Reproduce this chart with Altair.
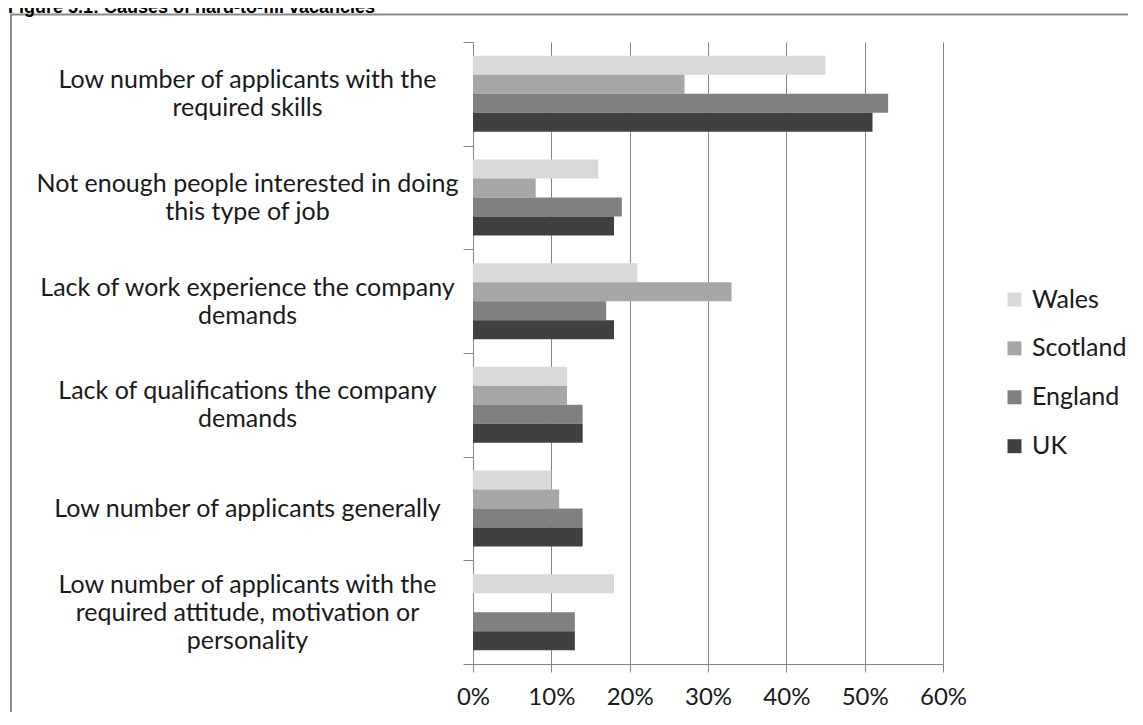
import altair as alt
import pandas as pd

TITLE = "Figure 5.1: Causes of hard-to-fill vacancies"

causes = [
    "Low number of applicants with the\nrequired skills",
    "Not enough people interested in doing\nthis type of job",
    "Lack of work experience the company\ndemands",
    "Lack of qualifications the company\ndemands",
    "Low number of applicants generally",
    "Low number of applicants with the\nrequired attitude, motivation or\npersonality",
]
regions = ["Wales", "Scotland", "England", "UK"]
colors = ["#d9d9d9", "#a6a6a6", "#808080", "#404040"]

wales = [0.45, 0.16, 0.21, 0.12, 0.10, 0.18]
scotland = [0.27, 0.08, 0.33, 0.12, 0.11, None]
england = [0.53, 0.19, 0.17, 0.14, 0.14, 0.13]
uk = [0.51, 0.18, 0.18, 0.14, 0.14, 0.13]

tick_values = [0, 0.1, 0.2, 0.3, 0.4, 0.5, 0.6]

rows = []
for reg, vals in zip(regions, [wales, scotland, england, uk]):
    for c, v in zip(causes, vals):
        if v is not None:
            rows.append({"cause": c, "region": reg, "value": v})
df = pd.DataFrame(rows)

FONT = "Lato"
FS = 25
LH = 28
AXIS_GRAY = "#868686"
TEXT = "#1a1a1a"

nlines = "length(split(datum.value, '\\n'))"

bars = alt.Chart(df).mark_bar().encode(
    x=alt.X(
        "value:Q",
        scale=alt.Scale(domain=[0, 0.6], nice=False, zero=True),
        axis=alt.Axis(
            title=None, format=".0%", values=tick_values, grid=True,
            gridColor=AXIS_GRAY, gridWidth=1, gridOpacity=1,
            domainColor=AXIS_GRAY, tickColor=AXIS_GRAY, tickSize=8,
            labelFont=FONT, labelFontSize=24, labelColor=TEXT,
            labelPadding=13, labelFlush=False,
        ),
    ),
    y=alt.Y(
        "cause:N", sort=causes,
        scale=alt.Scale(paddingInner=0, paddingOuter=0),
        axis=alt.Axis(
            title=None, tickBand="extent", grid=False,
            domainColor=AXIS_GRAY, tickColor=AXIS_GRAY, tickSize=10,
            labelFont=FONT, labelFontSize=FS, labelColor=TEXT,
            labelAlign="center", labelBaseline="middle", labelPadding=216,
            labelLineHeight=LH, labelLimit=0,
            labelExpr="split(datum.label, '\\n')",
            labelOffset={
                "condition": [
                    {"test": nlines + " == 3", "value": -LH},
                    {"test": nlines + " == 2", "value": -LH / 2},
                ],
                "value": 0,
            },
        ),
    ),
    yOffset=alt.YOffset(
        "region:N", sort=regions,
        scale=alt.Scale(domain=regions, paddingInner=0, paddingOuter=0.73),
    ),
    color=alt.Color(
        "region:N",
        scale=alt.Scale(domain=regions, range=colors),
        legend=alt.Legend(
            title=None, orient="none", legendX=529, legendY=245,
            symbolType="square", symbolSize=196, symbolStrokeWidth=0,
            labelFont=FONT, labelFontSize=FS, labelColor=TEXT,
            labelOffset=5, rowPadding=22.9, padding=0,
        ),
    ),
)

one = pd.DataFrame({"t": [TITLE]})

frame_left = alt.Chart(one).mark_rule(color="#8c8c8c", strokeWidth=2).encode(
    x=alt.value(-462), y=alt.value(-27.5), y2=alt.value(720)
)
frame_top = alt.Chart(one).mark_rule(color="#8c8c8c", strokeWidth=2).encode(
    x=alt.value(-463), x2=alt.value(800), y=alt.value(-27.5)
)
title = alt.Chart(one).mark_text(
    font="Liberation Sans", fontWeight="bold", fontSize=18,
    align="left", baseline="alphabetic", color="#000000",
).encode(x=alt.value(-465), y=alt.value(-29), text="t:N")

chart = alt.layer(frame_left, frame_top, bars, title).properties(
    width=470, height=622,
    autosize=alt.AutoSizeParams(type="none"),
    padding={"left": 465, "top": 34, "right": 185, "bottom": 48},
).configure_view(stroke=None)

chart.save("out.html", embed_options={"renderer": "svg", "actions": False})
